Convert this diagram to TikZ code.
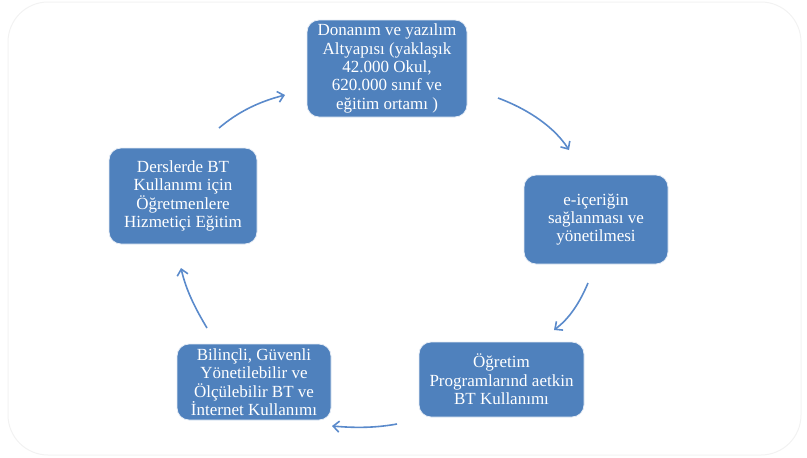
\documentclass[tikz,border=0pt]{standalone}
\usepackage{fontspec}
\setmainfont{Liberation Serif}
\usetikzlibrary{arrows.meta}
\definecolor{boxblue}{HTML}{4F81BD}
\definecolor{arrowblue}{HTML}{5A8ACB}
\definecolor{framegray}{HTML}{F2F2F2}
\tikzset{
  stepbox/.style={draw=white!85!boxblue, line width=0.8pt, fill=boxblue, rounded corners=12pt,
    text=white, align=center, inner sep=2pt, font=\fontsize{17}{18.4}\selectfont},
  cyc/.style={draw=arrowblue, line width=1.6pt, -{Straight Barb[length=6pt,width=11pt,line width=1.6pt]}}
}
\begin{document}
\begin{tikzpicture}[x=1pt,y=-1pt]
\useasboundingbox (0,0) rectangle (807,458);
\draw[framegray, line width=1pt, rounded corners=40pt] (8,2) rectangle (801,455);
\node[stepbox, minimum width=160pt, minimum height=97pt] (a) at (387,68.5)
  {Donanım ve yazılım\\Altyapısı (yaklaşık\\42.000 Okul,\\620.000 sınıf ve\\eğitim ortamı )};
\node[stepbox, minimum width=144pt, minimum height=89pt] (b) at (596,219.5)
  {e-içeriğin\\sağlanması ve\\yönetilmesi};
\node[stepbox, minimum width=165pt, minimum height=75pt] (c) at (501.5,379.5)
  {Öğretim\\Programlarınd aetkin\\BT Kullanımı};
\node[stepbox, minimum width=154pt, minimum height=76pt] (d) at (254,382)
  {Bilinçli, Güvenli\\Yönetilebilir ve\\Ölçülebilir BT ve\\İnternet Kullanımı};
\node[stepbox, minimum width=148pt, minimum height=96pt] (e) at (183,196)
  {Derslerde BT\\Kullanımı için\\Öğretmenlere\\Hizmetiçi Eğitim};
\coordinate (a1s) at (498,98);  \coordinate (a1e) at (569,150);
\coordinate (a2s) at (588,283); \coordinate (a2e) at (554,330);
\coordinate (a3s) at (397,424); \coordinate (a3e) at (332,426);
\coordinate (a4s) at (207,328); \coordinate (a4e) at (181,268);
\coordinate (a5s) at (219,128); \coordinate (a5e) at (285,95);
\draw[cyc] (a1s) .. controls (530,110) and (555,128) .. (a1e);
\draw[cyc] (a2s) .. controls (580,302) and (570,318) .. (a2e);
\draw[cyc] (a3s) .. controls (375,428) and (355,428) .. (a3e);
\draw[cyc] (a4s) .. controls (195,308) and (186,290) .. (a4e);
\draw[cyc] (a5s) .. controls (238,112) and (258,102) .. (a5e);
\end{tikzpicture}
\end{document}
